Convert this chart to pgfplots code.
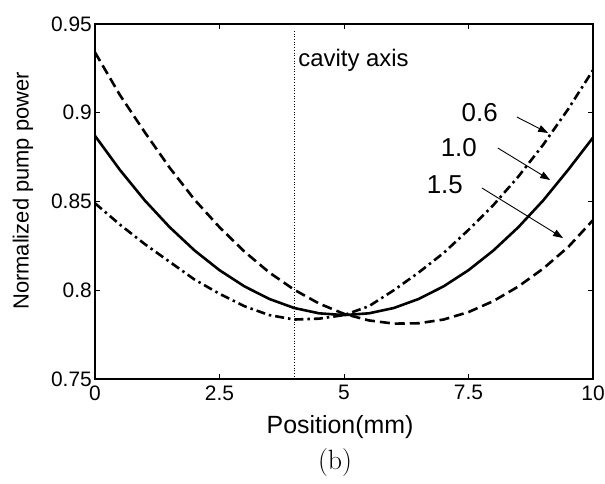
\documentclass[border=0pt]{standalone}
\usepackage{pgfplots}
\pgfplotsset{compat=1.18}
\usepackage{fontspec}
\setmainfont{Liberation Sans}
\newfontfamily\serifb{Latin Modern Roman}
\usetikzlibrary{arrows.meta}

\pgfplotstableread{
x     a      b      c
0     0.849  0.887  0.934
0.5   0.837  0.8678 0.910
1     0.826  0.8506 0.889
1.5   0.816  0.8355 0.869
2     0.806  0.8224 0.851
2.5   0.798  0.8113 0.8355
3     0.791  0.8022 0.8218
3.5   0.786  0.7951 0.810
4     0.7835 0.790  0.8003
4.5   0.784  0.787  0.7925
5     0.786  0.786  0.7867
5.5   0.791  0.787  0.783
6     0.800  0.790  0.7812
6.5   0.810  0.7951 0.7814
7     0.821  0.8022 0.7835
7.5   0.834  0.8113 0.7877
8     0.848  0.8224 0.7939
8.5   0.864  0.8355 0.8021
9     0.882  0.8506 0.8122
9.5   0.902  0.8678 0.8243
10    0.924  0.886  0.8395
}\curves

\begin{document}
\begin{tikzpicture}
\path[use as bounding box] (-95bp,-105bp) rectangle (510bp,379bp);
\begin{axis}[
    at={(0,0)}, anchor=south west,
    scale only axis,
    width=498bp, height=355bp,
    xmin=0, xmax=10, ymin=0.75, ymax=0.95,
    xtick={0,2.5,5,7.5,10},
    xticklabels={0,2.5,5,7.5,10},
    ytick={0.75,0.8,0.85,0.9,0.95},
    yticklabels={0.75,0.8,0.85,0.9,0.95},
    tick align=inside,
    major tick length=5bp,
    axis line style={line width=1.4bp},
    every tick/.style={line width=1bp, black},
    tick label style={font=\fontsize{21}{21}\selectfont},
    yticklabel style={inner sep=3bp},
    xticklabel style={yshift=-3bp},
    xlabel={Position(mm)},
    ylabel={Normalized pump power},
    xlabel style={font=\fontsize{25}{25}\selectfont, at={(axis description cs:0.492,-0.135)}, anchor=center},
    ylabel style={font=\fontsize{22}{22}\selectfont, at={(axis description cs:-0.1446,0.53)}, anchor=center},
    clip=false,
]
\addplot[black, line width=2.6bp, dash pattern=on 9bp off 4bp on 2.5bp off 4bp] table[x=x, y=a] {\curves};
\addplot[black, line width=2.6bp] table[x=x, y=b] {\curves};
\addplot[black, line width=2.6bp, dash pattern=on 10bp off 5bp] table[x=x, y=c] {\curves};
\addplot[black, line width=0.7bp, dotted] coordinates {(4,0.7500) (4,0.9465)};

\node[anchor=west, inner sep=0, font=\fontsize{24}{24}\selectfont] at (axis cs:4.08,0.9297) {cavity axis};
\node[anchor=east, inner sep=0, font=\fontsize{26}{26}\selectfont] at (axis cs:8.09,0.900) {0.6};
\node[anchor=east, inner sep=0, font=\fontsize{26}{26}\selectfont] at (axis cs:7.67,0.8801) {1.0};
\node[anchor=east, inner sep=0, font=\fontsize{26}{26}\selectfont] at (axis cs:7.39,0.8593) {1.5};
\draw[-{Triangle[length=10bp,width=7bp]}, line width=0.9bp] (axis cs:8.47,0.8976) -- (axis cs:9.10,0.8886);
\draw[-{Triangle[length=10bp,width=7bp]}, line width=0.9bp] (axis cs:8.09,0.8801) -- (axis cs:9.14,0.8621);
\draw[-{Triangle[length=10bp,width=7bp]}, line width=0.9bp] (axis cs:7.77,0.8576) -- (axis cs:9.40,0.8294);
\end{axis}
\node[font=\serifb\fontsize{28}{28}\selectfont] at (240bp,-84bp) {(b)};
\end{tikzpicture}
\end{document}
